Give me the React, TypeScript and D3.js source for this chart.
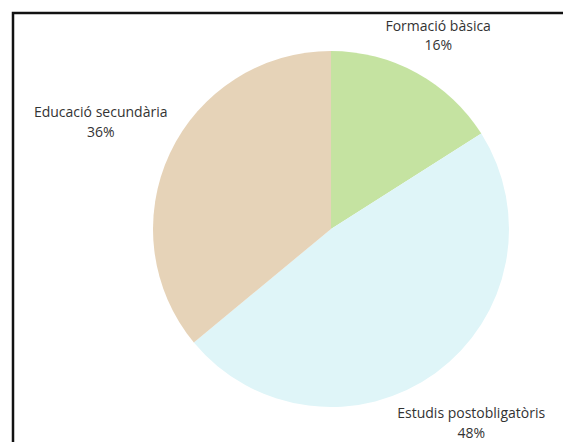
import React from "react";
import * as d3 from "d3";

const categories = ["Formació bàsica", "Estudis postobligatòris", "Educació secundària"];
const values = [16, 48, 36];
const colors = ["#c5e3a1", "#dff5f8", "#e6d3b8"];
// label distance from centre, as a fraction of the radius
const labelRadiusFactor = [1.25, 1.34, 1.43];

const W = 563;
const H = 442;
const cx = 331;
const cy = 229;
const r = 178;

export default function App() {
  const data = categories.map((c, i) => ({ name: c, value: values[i], color: colors[i] }));
  const pie = d3.pie<any>().value((d) => d.value).sort(null);
  const arcs = pie(data);
  const arc = d3.arc<any>().innerRadius(0).outerRadius(r);
  return (
    <svg width={W} height={H} style={{ position: "absolute", left: 0, top: 0, background: "#fff" }}>
      <g transform={`translate(${cx},${cy})`}>
        {arcs.map((a, i) => (
          <path key={i} d={arc(a) as string} fill={a.data.color} />
        ))}
        {arcs.map((a, i) => {
          const R = r * labelRadiusFactor[i];
          const [x, y] = d3.arc<any>().innerRadius(R).outerRadius(R).centroid(a);
          return (
            <text
              key={"t" + i}
              x={x}
              y={y}
              textAnchor="middle"
              fontFamily="Open Sans"
              fontSize={14}
              fill="#333"
            >
              <tspan x={x} dy="-0.25em">{a.data.name}</tspan>
              <tspan x={x} dy="1.4em">{a.data.value + "%"}</tspan>
            </text>
          );
        })}
      </g>
      <path d={`M13,${H} L13,13 L${W},13`} fill="none" stroke="#111" strokeWidth={2.5} />
    </svg>
  );
}
